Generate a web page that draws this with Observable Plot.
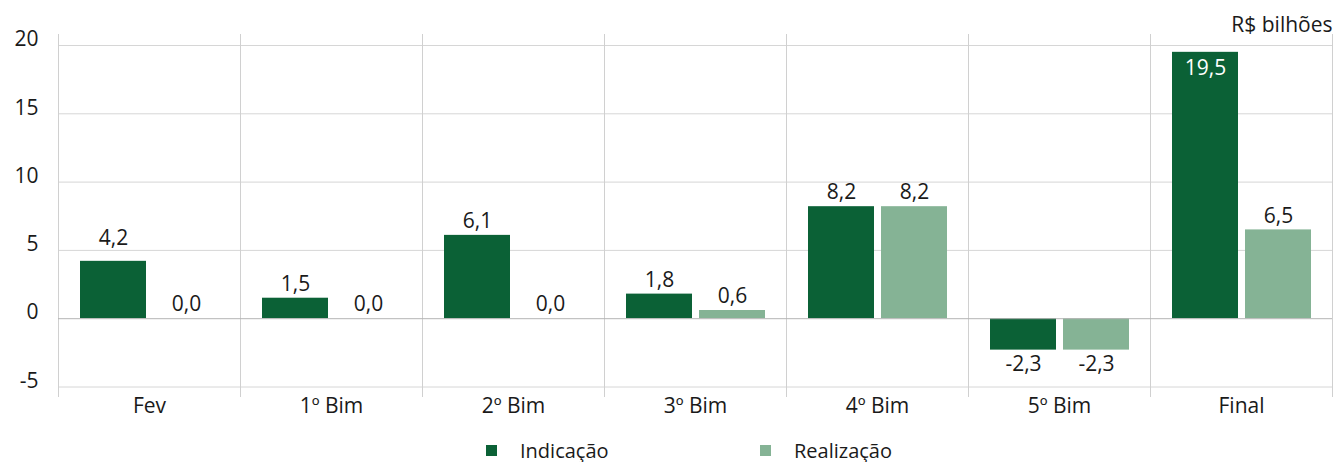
<!DOCTYPE html>
<html>
<head>
<meta charset="utf-8">
<script src="https://cdn.jsdelivr.net/npm/d3@7"></script>
<script src="https://cdn.jsdelivr.net/npm/@observablehq/plot@0.6"></script>
<style>
  html, body { margin: 0; padding: 0; background: #fff; }
  #wrap { position: relative; width: 1333px; height: 462px; font-family: "Open Sans", sans-serif; color: #1a1a1a; }
  .item { position: absolute; top: 440px; height: 21px; display: flex; align-items: center; font-size: 20px; line-height: 21px; white-space: nowrap; }
  .sw { width: 11px; height: 11px; margin-right: 23px; flex: none; }
</style>
</head>
<body>
<div id="wrap"><div id="chart"></div></div>
<script>
const categories = ["Fev", "1º Bim", "2º Bim", "3º Bim", "4º Bim", "5º Bim", "Final"];
const indicacao  = [4.2, 1.5, 6.1, 1.8, 8.2, -2.3, 19.5];
const realizacao = [0.0, 0.0, 0.0, 0.6, 8.2, -2.3, 6.5];
const seriesNames = ["Indicação", "Realização"];
const seriesColors = ["#0b6136", "#85b395"];
const yTicks = [-5, 0, 5, 10, 15, 20];
const unitLabel = ["R$ bilhões"];

const rows = categories.flatMap((c, i) => [
  {cat: c, serie: seriesNames[0], value: indicacao[i]},
  {cat: c, serie: seriesNames[1], value: realizacao[i]}
]);
const fmt = v => v.toFixed(1).replace(".", ",");
const s0 = rows.filter(d => d.serie === seriesNames[0]);
const s1 = rows.filter(d => d.serie === seriesNames[1]);
// a label sitting on a gridline is lifted above it
const crowded = d => d.value > 0 && yTicks.some(t => t !== 0 && Math.abs(d.value + 1.02 - t) < 0.6);
const TXT = "#1a1a1a";
const FS = 21;

const chart = Plot.plot({
  width: 1333,
  height: 425,
  marginLeft: 58,
  marginRight: 1,
  marginTop: 45,
  marginBottom: 38.5,
  style: {fontFamily: "'Open Sans', sans-serif", fontSize: "21px", color: TXT, background: "white", overflow: "visible"},
  x: {domain: categories, padding: 0, axis: null},
  y: {domain: [-5, 20], axis: null},
  marks: [
    Plot.ruleY(yTicks.filter(d => d !== 0), {stroke: "#d6d6d6", strokeWidth: 1}),
    Plot.ruleX(categories, {x: d => d, dx: -91, insetTop: -11, insetBottom: -10.5, stroke: "#d0d0d0"}),
    Plot.ruleX(categories.slice(-1), {x: d => d, dx: 91, insetTop: -11, insetBottom: -10.5, stroke: "#d0d0d0"}),
    Plot.barY(s0, {x: "cat", y: "value", fill: seriesColors[0], insetLeft: 22, insetRight: 94}),
    Plot.barY(s1, {x: "cat", y: "value", fill: seriesColors[1], insetLeft: 95, insetRight: 21}),
    Plot.ruleY([0], {stroke: "#b4b4b4", strokeWidth: 1}),
    Plot.axisY({ticks: yTicks, tickSize: 0, tickPadding: 20, tickFormat: d => String(d), fontSize: FS, dy: -6, label: null, fill: TXT}),
    Plot.axisX({tickSize: 0, tickPadding: 11, fontSize: FS, label: null, fill: TXT}),
    // value labels - Indicação
    Plot.text(s0.filter(d => d.value >= 0 && d.value < 15 && !crowded(d)), {x: "cat", y: "value", text: d => fmt(d.value), dx: -36, dy: -14, fontSize: FS, fill: TXT}),
    Plot.text(s0.filter(d => d.value >= 0 && d.value < 15 && crowded(d)), {x: "cat", y: "value", text: d => fmt(d.value), dx: -36, dy: -23, fontSize: FS, fill: TXT}),
    Plot.text(s0.filter(d => d.value >= 15), {x: "cat", y: "value", text: d => fmt(d.value), dx: -36, dy: 16, fontSize: FS, fill: "white"}),
    Plot.text(s0.filter(d => d.value < 0), {x: "cat", y: "value", text: d => fmt(d.value), dx: -36, dy: 14.5, fontSize: FS, fill: TXT}),
    // value labels - Realização
    Plot.text(s1.filter(d => d.value >= 0 && !crowded(d)), {x: "cat", y: "value", text: d => fmt(d.value), dx: 37, dy: -14, fontSize: FS, fill: TXT}),
    Plot.text(s1.filter(d => d.value >= 0 && crowded(d)), {x: "cat", y: "value", text: d => fmt(d.value), dx: 37, dy: -23, fontSize: FS, fill: TXT}),
    Plot.text(s1.filter(d => d.value < 0), {x: "cat", y: "value", text: d => fmt(d.value), dx: 37, dy: 14.5, fontSize: FS, fill: TXT}),
    // unit label
    Plot.text(unitLabel, {text: d => d, frameAnchor: "top-right", textAnchor: "end", dy: -28, fontSize: FS, fill: TXT})
  ]
});
const wrap = document.getElementById("wrap");
document.getElementById("chart").appendChild(chart);

const legendLefts = [486, 760];
seriesNames.forEach((name, i) => {
  const item = document.createElement("div");
  item.className = "item";
  item.style.left = legendLefts[i] + "px";
  const sw = document.createElement("span");
  sw.className = "sw";
  sw.style.background = seriesColors[i];
  const lab = document.createElement("span");
  lab.textContent = name;
  item.appendChild(sw);
  item.appendChild(lab);
  wrap.appendChild(item);
});
</script>
</body>
</html>
